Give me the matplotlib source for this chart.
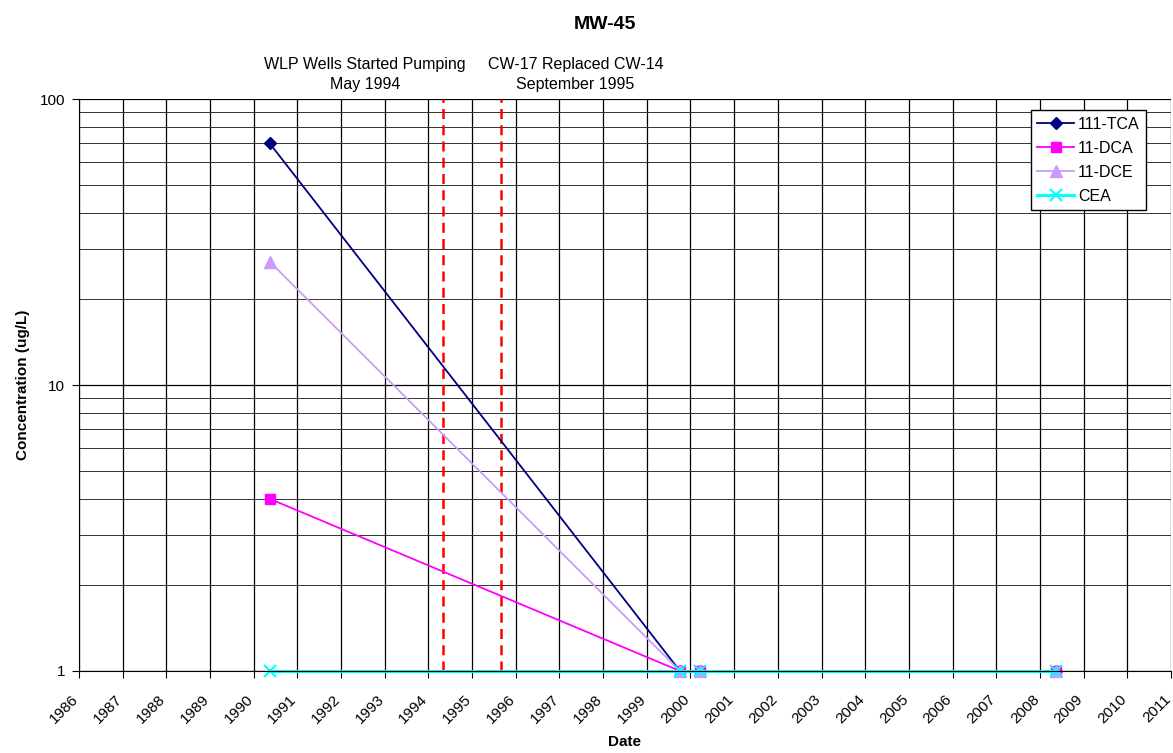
import numpy as np
import pandas as pd
import matplotlib
matplotlib.use("Agg")
import matplotlib.pyplot as plt
from matplotlib.transforms import blended_transform_factory

plt.rcParams["font.family"] = ["Liberation Sans", "DejaVu Sans"]

# sample dates and concentrations (ug/L)
dates = pd.to_datetime(["1990-05-15", "1999-10-05", "2000-03-20", "2008-05-15"])
tca_111 = [70, 1, 1, 1]
dca_11 = [4, 1, 1, 1]
dce_11 = [27, 1, 1, 1]
cea = [1, 1, 1, 1]

events = pd.to_datetime(["1994-05-01", "1995-09-01"])
event_labels = ["WLP Wells Started Pumping\nMay 1994",
                "CW-17 Replaced CW-14\nSeptember 1995"]
event_label_x = pd.to_datetime(["1992-07-20", "1997-05-15"])

years = list(range(1986, 2012))


fig = plt.figure(figsize=(11.73, 7.53), dpi=100)
ax = fig.add_axes([0.0673, 0.1089, 0.931, 0.7596])

ax.plot(dates, tca_111, "-", color="#000080", marker="D", markersize=6.5, lw=1.3,
        clip_on=False, label="111-TCA")
ax.plot(dates, dca_11, "-", color="#FF00FF", marker="s", markersize=7.5, lw=1.3,
        clip_on=False, label="11-DCA")
ax.plot(dates, dce_11, "-", color="#CC99FF", marker="^", markersize=8, lw=1.3,
        clip_on=False, label="11-DCE")
ax.plot(dates, cea, "-", color="#00FFFF", marker="x", markersize=8, mew=1.5, lw=2.2,
        clip_on=False, label="CEA")

for d in events:
    ax.axvline(d, color="#FF0000", ls=(0, (4, 2.5)), lw=1.8, zorder=1)

ax.set_yscale("log")
ax.set_ylim(1, 100)
ax.set_yticks([1, 10, 100])
ax.set_yticklabels(["1", "10", "100"])
ax.yaxis.set_minor_locator(matplotlib.ticker.LogLocator(base=10, subs=np.arange(2, 10)))
ax.yaxis.set_minor_formatter(matplotlib.ticker.NullFormatter())

tick_dates = pd.to_datetime([f"{y}-01-01" for y in years])
ax.set_xlim(tick_dates[0], tick_dates[-1])
ax.set_xticks(tick_dates)
ax.set_xticklabels([str(y) for y in years], rotation=45, ha="right", va="baseline",
                   rotation_mode="anchor", fontsize=11)

ax.grid(True, which="major", color="black", lw=0.9)
ax.grid(True, which="minor", axis="y", color="#333333", lw=0.7)
ax.set_axisbelow(True)
ax.tick_params(axis="both", which="major", direction="out", length=5, labelsize=11, color="black")
ax.tick_params(axis="y", which="minor", length=0)
ax.tick_params(axis="x", pad=16)
ax.tick_params(axis="y", pad=5)
for s in ["top", "right"]:
    ax.spines[s].set_visible(False)

ax.set_xlabel("Date", fontsize=11, fontweight="bold", labelpad=6)
ax.set_ylabel("Concentration (ug/L)", fontsize=11, fontweight="bold", labelpad=7)
fig.text(0.516, 0.979, "MW-45", ha="center", va="top", fontsize=14, fontweight="bold")

trans = blended_transform_factory(ax.transData, ax.transAxes)
for x, txt in zip(event_label_x, event_labels):
    ax.text(x, 1.012, txt, transform=trans, ha="center", va="bottom",
            multialignment="center", fontsize=11.5, linespacing=1.4)

leg = ax.legend(loc="upper right", bbox_to_anchor=(0.977, 0.98), fontsize=11.5,
                frameon=True, fancybox=False, edgecolor="black", framealpha=1,
                borderpad=0.4, labelspacing=0.56, handlelength=2.3,
                handletextpad=0.25, borderaxespad=0)
leg.get_frame().set_linewidth(1.0)

fig.savefig("out.png", dpi=100)
